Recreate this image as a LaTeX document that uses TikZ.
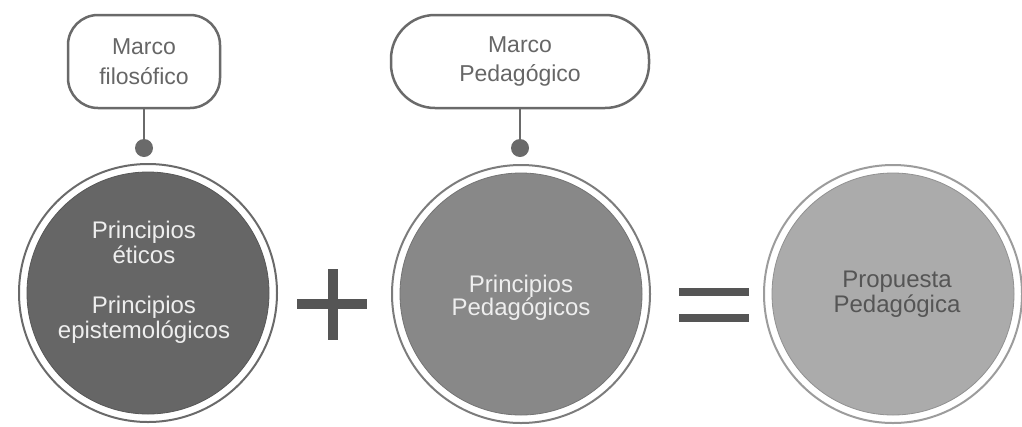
\documentclass[tikz,border=0pt]{standalone}
\usepackage{fontspec}
\setmainfont{Liberation Sans}
\definecolor{boxline}{HTML}{6A6A6A}
\definecolor{boxtext}{HTML}{666666}
\definecolor{fillA}{HTML}{666666}
\definecolor{fillB}{HTML}{888888}
\definecolor{fillC}{HTML}{ABABAB}
\definecolor{ringA}{HTML}{6A6A6A}
\definecolor{ringB}{HTML}{7C7C7C}
\definecolor{ringC}{HTML}{9C9C9C}
\definecolor{lighttext}{HTML}{EEEEEE}
\definecolor{darktext}{HTML}{555555}
\definecolor{opcol}{HTML}{555555}
\lineskiplimit=-100pt
\begin{document}
\lineskiplimit=-100pt
\begin{tikzpicture}[x=1pt,y=-1pt,
  frame/.style={draw=boxline, line width=2.5pt, rounded corners=#1, minimum height=93pt,
    text=boxtext, font={\fontsize{23}{29.5}\selectfont}, align=center, inner sep=0pt},
  ring/.style={circle, draw=#1, line width=2pt, fill=white, minimum size=258pt, inner sep=0pt},
  core/.style={circle, fill=#1, draw=#1!85!black, line width=0.8pt, minimum size=242pt, inner sep=0pt},
  pin/.style={circle, fill=boxline, minimum size=18pt, inner sep=0pt},
  link/.style={draw=boxline, line width=2pt},
  label/.style={align=center, inner sep=0pt}]
\useasboundingbox (0,0) rectangle (1022,426);
% boxes
\node[frame=30pt, minimum width=152pt] (b1) at (144,61.5) {Marco\\filosófico};
\node[frame=44pt, minimum width=258pt] (b2) at (520,61.5) {Marco\\Pedagógico};
% pins
\node[pin] (p1) at (144,148) {};
\node[pin] (p2) at (520,148) {};
\draw[link] (b1.south) -- (p1);
\draw[link] (b2.south) -- (p2);
% circles
\node[ring=ringA] (c1) at (148,293) {};
\node[core=fillA] (c1in) at (c1) {};
\node[ring=ringB] (c2) at (521,294) {};
\node[core=fillB] (c2in) at (c2) {};
\node[ring=ringC] (c3) at (893,294) {};
\node[core=fillC] (c3in) at (c3) {};
% texts
\node[label, text=lighttext, font={\fontsize{24}{25}\selectfont}] (t1) at (144,282)
  {Principios\\éticos\\[25pt]Principios\\epistemológicos};
\node[label, text=lighttext, font={\fontsize{24}{22.5}\selectfont}] (t2) at (521,298)
  {Principios\\Pedagógicos};
\node[label, text=darktext, font={\fontsize{24}{25}\selectfont}] (t3) at (897,294.5)
  {Propuesta\\Pedagógica};
% plus
\fill[opcol] (297,299) rectangle (367,309);
\fill[opcol] (328,269) rectangle (338,340);
% equals
\fill[opcol] (679,288) rectangle (749,296);
\fill[opcol] (679,314) rectangle (749,322);
\end{tikzpicture}
\end{document}
